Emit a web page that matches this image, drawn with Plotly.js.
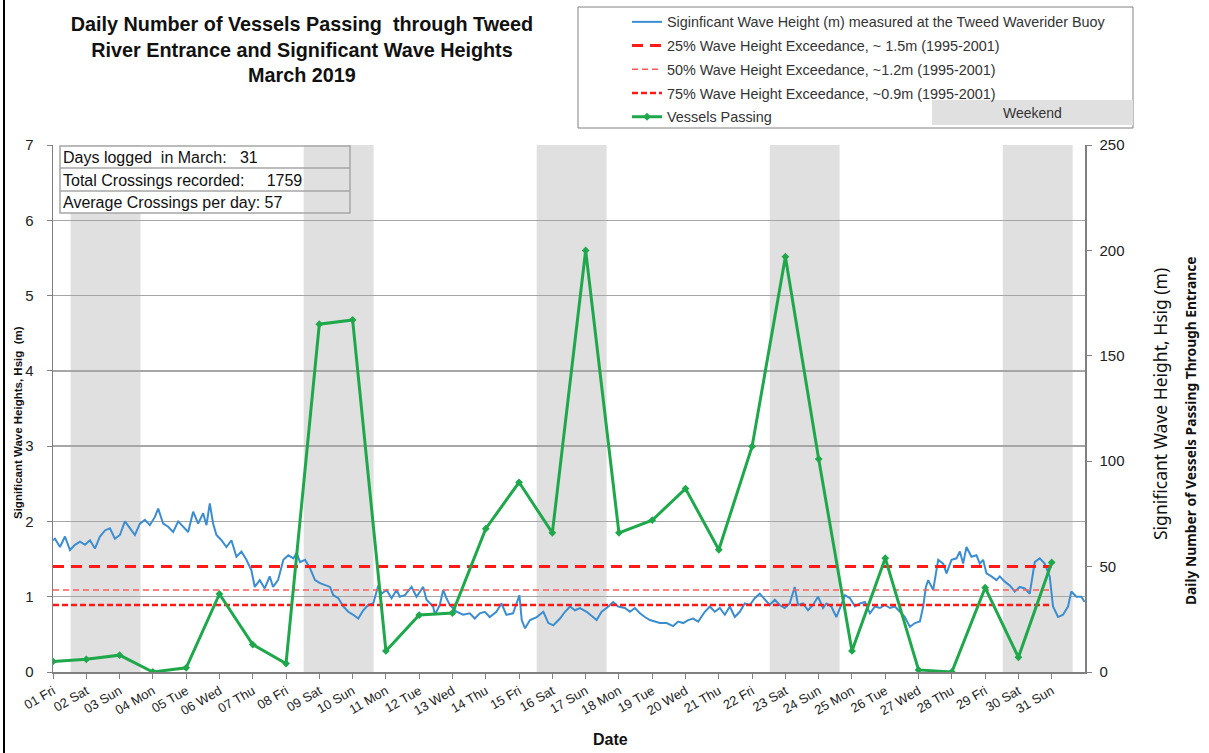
<!DOCTYPE html>
<html><head><meta charset="utf-8">
<script src="https://cdn.plot.ly/plotly-3.0.1.min.js"></script>
<style>html,body{margin:0;padding:0;background:#fff}#chart{width:1209px;height:753px}</style>
</head><body><div id="chart"></div>
<script>
// ---------- DATA ----------
const dayNumbers = [1,2,3,4,5,6,7,8,9,10,11,12,13,14,15,16,17,18,19,20,21,22,23,24,25,26,27,28,29,30,31];
const dayLabels = ['01 Fri','02 Sat','03 Sun','04 Mon','05 Tue','06 Wed','07 Thu','08 Fri','09 Sat','10 Sun',
  '11 Mon','12 Tue','13 Wed','14 Thu','15 Fri','16 Sat','17 Sun','18 Mon','19 Tue','20 Wed','21 Thu','22 Fri',
  '23 Sat','24 Sun','25 Mon','26 Tue','27 Wed','28 Thu','29 Fri','30 Sat','31 Sun'];
const vesselCounts = [5,6,8,0,2,37,13,4,165,167,10,27,28,68,90,66,200,66,72,87,58,107,197,101,10,54,1,0,40,7,52];
const weekendSaturdays = [2,9,16,23,30];
const waveDay = [1.00,1.06,1.21,1.36,1.51,1.66,1.81,1.96,2.11,2.26,2.41,2.56,2.71,2.86,3.01,3.16,3.31,3.46,3.61,3.76,3.91,
  4.06,4.16,4.31,4.46,4.61,4.76,4.91,5.06,5.21,5.36,5.51,5.61,5.71,5.81,5.91,6.06,6.21,6.36,6.51,6.66,6.81,6.96,
  7.06,7.21,7.36,7.51,7.61,7.76,7.92,8.07,8.22,8.32,8.42,8.57,8.72,8.87,9.02,9.17,9.32,9.42,9.57,9.72,9.87,
  10.02,10.17,10.32,10.47,10.62,10.77,10.87,11.02,11.17,11.32,11.42,11.57,11.77,11.92,12.12,12.22,12.42,12.47,
  12.62,12.72,12.82,12.92,13.12,13.32,13.52,13.67,13.82,13.97,14.12,14.32,14.47,14.62,14.82,15.01,15.08,15.18,
  15.33,15.53,15.73,15.88,16.03,16.23,16.38,16.53,16.68,16.83,17.03,17.23,17.33,17.48,17.63,17.83,17.98,18.18,
  18.33,18.48,18.63,18.78,18.93,19.08,19.23,19.43,19.63,19.78,19.93,20.08,20.23,20.38,20.58,20.73,20.88,21.03,
  21.18,21.33,21.48,21.63,21.78,21.93,22.08,22.23,22.38,22.53,22.68,22.83,22.98,23.13,23.28,23.38,23.53,23.68,
  23.83,23.98,24.13,24.23,24.38,24.53,24.64,24.79,24.94,25.09,25.24,25.39,25.54,25.69,25.84,25.99,26.14,26.29,
  26.44,26.59,26.74,26.89,27.04,27.14,27.22,27.29,27.44,27.59,27.74,27.84,27.99,28.14,28.24,28.34,28.44,28.59,
  28.74,28.84,28.94,29.04,29.19,29.34,29.44,29.59,29.74,29.89,30.04,30.19,30.34,30.49,30.64,30.79,30.94,31.04,
  31.19,31.34,31.49,31.59,31.74,31.89,31.99];
const waveHs = [1.75,1.77,1.66,1.80,1.62,1.69,1.73,1.69,1.75,1.64,1.80,1.88,1.91,1.77,1.82,2.00,1.91,1.82,1.97,2.02,1.95,
  2.06,2.17,1.97,1.93,1.86,2.00,1.93,1.86,2.13,1.97,2.11,1.95,2.24,1.97,1.82,1.75,1.66,1.75,1.53,1.60,1.49,1.35,
  1.13,1.22,1.11,1.27,1.13,1.22,1.49,1.55,1.51,1.58,1.46,1.49,1.38,1.22,1.18,1.15,1.13,1.02,0.98,0.87,0.80,
  0.76,0.71,0.82,0.89,0.91,1.15,1.04,1.09,0.98,1.09,1.00,1.02,1.13,1.00,1.13,0.96,0.87,0.76,
  0.89,1.09,0.98,0.89,0.80,0.76,0.78,0.71,0.78,0.80,0.73,0.80,0.91,0.76,0.78,1.02,0.69,0.58,
  0.69,0.73,0.80,0.65,0.62,0.71,0.80,0.87,0.82,0.85,0.80,0.73,0.69,0.80,0.85,0.93,0.87,0.85,
  0.80,0.85,0.78,0.73,0.69,0.67,0.65,0.65,0.61,0.67,0.65,0.69,0.71,0.67,0.80,0.87,0.80,0.85,
  0.76,0.87,0.73,0.80,0.91,0.89,0.98,1.04,0.96,0.89,0.96,0.89,0.85,0.91,1.13,0.89,0.91,0.82,
  0.89,1.00,0.85,0.91,0.87,0.73,0.85,1.02,0.98,0.87,0.91,0.93,0.78,0.87,0.85,0.89,0.85,0.87,
  0.80,0.73,0.60,0.65,0.67,0.87,1.13,1.22,1.09,1.49,1.44,1.31,1.49,1.51,1.60,1.44,1.66,1.53,
  1.55,1.44,1.49,1.31,1.27,1.22,1.27,1.20,1.15,1.07,1.13,1.11,1.04,1.46,1.51,1.44,1.27,0.87,
  0.73,0.76,0.87,1.07,1.00,1.00,0.93];
const exceedanceLevels = [1.40, 1.09, 0.89];
const exceedanceSpan = [1, 31];
const seriesNames = ['Siginficant Wave Height (m) measured at the Tweed Waverider Buoy',
  '25% Wave Height Exceedance, ~ 1.5m (1995-2001)',
  '50% Wave Height Exceedance, ~1.2m (1995-2001)',
  '75% Wave Height Exceedance, ~0.9m (1995-2001)',
  'Vessels Passing'];
const statLines = ['Days logged\u00a0 in March:\u00a0\u00a0 31',
  'Total Crossings recorded:\u00a0\u00a0\u00a0\u00a0 1759',
  'Average Crossings per day: 57'];

// ---------- LAYOUT HELPERS (pixel -> paper) ----------
const W = 1209, H = 753;
const ML = 53, MR = 1209 - 1085, MT = 145, MB = 753 - 672;
const PW = W - ML - MR, PH = H - MT - MB;
const xp = px => (px - ML) / PW;
const yp = py => (H - MB - py) / PH;

const FONT = 'Liberation Sans, Arial, sans-serif';
const GREEN = '#1FA84B', BLUE = '#3C8DD0', RED = '#FF1A1A';

const traces = [
  {x: waveDay, y: waveHs, type: 'scatter', mode: 'lines', name: seriesNames[0],
   line: {color: BLUE, width: 2}, legendgroup: 'a'},
  {x: exceedanceSpan, y: [exceedanceLevels[0], exceedanceLevels[0]], type: 'scatter', mode: 'lines', name: seriesNames[1],
   line: {color: RED, width: 3, dash: '11px,7px'}, legendgroup: 'b'},
  {x: exceedanceSpan, y: [exceedanceLevels[1], exceedanceLevels[1]], type: 'scatter', mode: 'lines', name: seriesNames[2],
   line: {color: '#FF5A5A', width: 1.5, dash: '6px,4px'}, legendgroup: 'c'},
  {x: exceedanceSpan, y: [exceedanceLevels[2], exceedanceLevels[2]], type: 'scatter', mode: 'lines', name: seriesNames[3],
   line: {color: RED, width: 2.5, dash: '6px,3px'}, legendgroup: 'd'},
  {x: dayNumbers, y: vesselCounts, type: 'scatter', mode: 'lines+markers', name: seriesNames[4], yaxis: 'y2',
   line: {color: GREEN, width: 3}, marker: {symbol: 'diamond', size: 6, color: GREEN}, legendgroup: 'e'}
];

const shapes = [];
weekendSaturdays.forEach(s => shapes.push({type: 'rect', xref: 'x', yref: 'paper', x0: s - 0.47, x1: s + 1.63, y0: 0, y1: 1,
  fillcolor: '#E0E0E0', line: {width: 0}, layer: 'below'}));
// stats table
shapes.push({type: 'rect', xref: 'paper', yref: 'paper', x0: xp(60), x1: xp(303), y0: yp(213), y1: yp(146),
  fillcolor: '#FFFFFF', line: {width: 0}, layer: 'below'});
shapes.push({type: 'rect', xref: 'paper', yref: 'paper', x0: xp(60), x1: xp(350), y0: yp(213), y1: yp(146),
  fillcolor: 'rgba(0,0,0,0)', line: {color: '#A6A6A6', width: 1.5}, layer: 'above'});
[168, 191].forEach(py => shapes.push({type: 'line', xref: 'paper', yref: 'paper', x0: xp(60), x1: xp(350), y0: yp(py), y1: yp(py),
  line: {color: '#A6A6A6', width: 1.5}, layer: 'above'}));
// legend frame and weekend key
shapes.push({type: 'rect', xref: 'paper', yref: 'paper', x0: xp(578), x1: xp(1133), y0: yp(128), y1: yp(7),
  fillcolor: 'rgba(0,0,0,0)', line: {color: '#808080', width: 1}});
shapes.push({type: 'rect', xref: 'paper', yref: 'paper', x0: xp(932), x1: xp(1133), y0: yp(125), y1: yp(100),
  fillcolor: '#E0E0E0', line: {width: 0}});
// outer left border
shapes.push({type: 'line', xref: 'paper', yref: 'paper', x0: xp(4), x1: xp(4), y0: yp(753), y1: yp(0),
  line: {color: '#000', width: 2}});

const ann = (px, py, text, font, extra) => Object.assign({xref: 'paper', yref: 'paper', x: xp(px), y: yp(py),
  xanchor: 'center', yanchor: 'middle', showarrow: false, text: text, font: font}, extra || {});

const annotations = statLines.map((t, i) => ann(61, [157, 180, 202][i], t,
  {family: FONT, size: 16, color: '#111'}, {xanchor: 'left'}));
annotations.push(ann(1032, 113, 'Weekend', {family: FONT, size: 14, color: '#333'}));
annotations.push(ann(610, 740, '<b>Date</b>', {family: FONT, size: 16, color: '#111'}));
annotations.push(ann(18, 423, '<b>Significant Wave Heights, Hsig\u00a0 (m)</b>',
  {family: FONT, size: 11.5, color: '#111'}, {textangle: -90}));
annotations.push(ann(1160, 404, 'Significant Wave Height, Hsig (m)',
  {family: 'Noto Sans, sans-serif', size: 17.5, color: '#111'}, {textangle: -90}));
annotations.push(ann(1190, 431, '<b>Daily Number of Vessels Passing Through Entrance</b>',
  {family: 'Noto Sans, sans-serif', size: 13.8, color: '#111'}, {textangle: -90}));

const layout = {
  width: W, height: H,
  margin: {l: ML, r: MR, t: MT, b: MB, pad: 0, autoexpand: false},
  paper_bgcolor: '#fff', plot_bgcolor: 'rgba(0,0,0,0)',
  font: {family: FONT, size: 13, color: '#222'},
  title: {text: '<b>Daily Number of Vessels Passing\u00a0 through Tweed<br>River Entrance and Significant Wave Heights<br>March 2019</b>',
    font: {family: FONT, size: 19.8, color: '#111'}, xref: 'container', yref: 'container',
    x: 302 / W, xanchor: 'center', y: 1 - 31 / H, yanchor: 'top'},
  xaxis: {range: [1, 32], tickmode: 'array', tickvals: dayNumbers, ticktext: dayLabels, tickangle: -30,
    ticks: 'outside', ticklen: 5, tickcolor: '#808080', showline: true, linecolor: '#808080', linewidth: 1.5,
    showgrid: false, zeroline: false, tickfont: {family: FONT, size: 13, color: '#222'}, automargin: false},
  yaxis: {range: [0, 7], dtick: 1, ticks: 'outside', ticklen: 5, tickcolor: '#808080', showline: true,
    linecolor: '#808080', linewidth: 1.5, showgrid: true, gridcolor: '#A6A6A6', gridwidth: 1.5, zeroline: false,
    tickfont: {family: FONT, size: 15, color: '#222'}, ticklabelstandoff: 10, automargin: false},
  yaxis2: {range: [0, 250], dtick: 50, overlaying: 'y', side: 'right', ticks: 'outside', ticklen: 5, tickcolor: '#808080',
    showline: true, linecolor: '#808080', linewidth: 1.5, showgrid: false, zeroline: false,
    tickfont: {family: FONT, size: 15, color: '#222'}, ticklabelstandoff: 5, automargin: false},
  showlegend: true,
  legend: {x: xp(627), y: yp(6), xanchor: 'left', yanchor: 'top', bgcolor: 'rgba(0,0,0,0)', borderwidth: 0,
    font: {family: FONT, size: 14.4, color: '#333'}, traceorder: 'grouped', tracegroupgap: 2, itemwidth: 30},
  shapes: shapes,
  annotations: annotations
};

Plotly.newPlot('chart', traces, layout, {displayModeBar: false, staticPlot: true});
</script></body></html>
